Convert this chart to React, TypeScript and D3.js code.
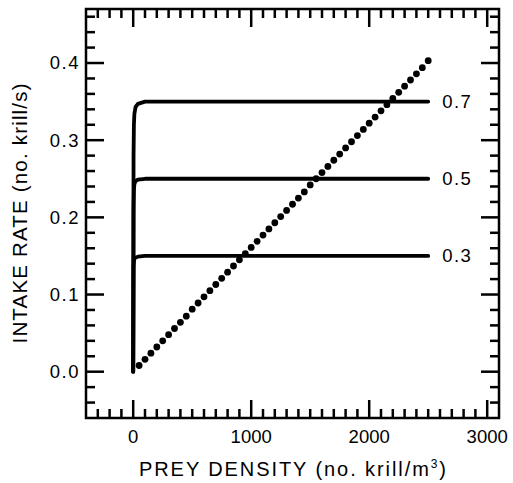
import React, { useEffect, useRef } from 'react';
import * as d3 from 'd3';

// Saturating intake curves (labelled by their parameter value)
const curveDensity = [0, 3, 6, 10, 20, 40, 100, 2500];
const intake07 = [0, 0.28, 0.32, 0.334, 0.343, 0.347, 0.35, 0.35];
const intake05 = [0, 0.21, 0.235, 0.243, 0.247, 0.249, 0.25, 0.25];
const intake03 = [0, 0.135, 0.143, 0.146, 0.148, 0.149, 0.15, 0.15];
const curveLabels = ['0.7', '0.5', '0.3'];

// Dotted linear intake
const dotDensity = [
  50, 100, 150, 200, 250, 300, 350, 400, 450, 500,
  550, 600, 650, 700, 750, 800, 850, 900, 950, 1000,
  1050, 1100, 1150, 1200, 1250, 1300, 1350, 1400, 1450, 1500,
  1550, 1600, 1650, 1700, 1750, 1800, 1850, 1900, 1950, 2000,
  2050, 2100, 2150, 2200, 2250, 2300, 2350, 2400, 2450, 2500,
];
const dotIntake = [
  0.008, 0.016, 0.024, 0.032, 0.040, 0.048, 0.056, 0.064, 0.072, 0.081,
  0.089, 0.097, 0.105, 0.113, 0.121, 0.129, 0.137, 0.145, 0.153, 0.161,
  0.169, 0.177, 0.185, 0.193, 0.201, 0.209, 0.217, 0.225, 0.233, 0.242,
  0.250, 0.258, 0.266, 0.274, 0.282, 0.290, 0.298, 0.306, 0.314, 0.322,
  0.330, 0.338, 0.346, 0.354, 0.362, 0.370, 0.378, 0.386, 0.394, 0.403,
];

const xMajorTicks = [0, 1000, 2000, 3000];
const xMinorTicks = [-300, -200, -100, 100, 200, 300, 400, 500, 600, 700, 800, 900,
  1100, 1200, 1300, 1400, 1500, 1600, 1700, 1800, 1900, 2100, 2200, 2300, 2400,
  2500, 2600, 2700, 2800, 2900];
const yMajorTicks = [0, 0.1, 0.2, 0.3, 0.4];
const yMinorTicks = [-0.04, -0.02, 0.02, 0.04, 0.06, 0.08, 0.12, 0.14, 0.16, 0.18,
  0.22, 0.24, 0.26, 0.28, 0.32, 0.34, 0.36, 0.38, 0.42, 0.44, 0.46];

const FONT = '"Liberation Sans", Arial, Helvetica, sans-serif';

const App: React.FC = () => {
  const svgRef = useRef<SVGSVGElement>(null);

  useEffect(() => {
    if (!svgRef.current) return;
    const svg = d3.select(svgRef.current);
    svg.selectAll('*').remove();

    const left = 86, right = 499, top = 9, bottom = 418;
    const x = d3.scaleLinear().domain([-400, 3100]).range([left, right]);
    const y = d3.scaleLinear().domain([-0.06, 0.47]).range([bottom, top]);

    const majorLen = 18;
    const minorLen = 9;

    // frame
    svg.append('rect')
      .attr('x', left).attr('y', top)
      .attr('width', right - left).attr('height', bottom - top)
      .attr('fill', 'none').attr('stroke', '#000').attr('stroke-width', 2.5);

    // inward ticks on all four sides
    const tickGroup = svg.append('g').attr('stroke', '#000').attr('stroke-width', 2.5);
    const drawX = (vals: number[], len: number) => {
      tickGroup.append('g').selectAll('line').data(vals).join('line')
        .attr('x1', d => x(d)).attr('x2', d => x(d))
        .attr('y1', bottom).attr('y2', bottom - len);
      tickGroup.append('g').selectAll('line').data(vals).join('line')
        .attr('x1', d => x(d)).attr('x2', d => x(d))
        .attr('y1', top).attr('y2', top + len);
    };
    const drawY = (vals: number[], len: number) => {
      tickGroup.append('g').selectAll('line').data(vals).join('line')
        .attr('y1', d => y(d)).attr('y2', d => y(d))
        .attr('x1', left).attr('x2', left + len);
      tickGroup.append('g').selectAll('line').data(vals).join('line')
        .attr('y1', d => y(d)).attr('y2', d => y(d))
        .attr('x1', right).attr('x2', right - len);
    };
    drawX(xMinorTicks, minorLen);
    drawY(yMinorTicks, minorLen);
    drawX(xMajorTicks, majorLen);
    drawY(yMajorTicks, majorLen);

    // tick labels
    svg.append('g').selectAll('text').data(xMajorTicks).join('text')
      .attr('x', d => x(d))
      .attr('y', 443)
      .attr('text-anchor', 'middle')
      .attr('fill', '#000')
      .style('font-family', FONT)
      .style('font-size', '18.5px')
      .text(d => d3.format('d')(d));
    svg.append('g').selectAll('text').data(yMajorTicks).join('text')
      .attr('x', 80)
      .attr('y', d => y(d))
      .attr('dy', '0.35em')
      .attr('text-anchor', 'end')
      .attr('fill', '#000')
      .style('font-family', FONT)
      .style('font-size', '18.5px')
      .style('letter-spacing', '1.5px')
      .text(d => d3.format('.1f')(d));

    // curves
    const line = d3.line<number>()
      .x((_, i) => x(curveDensity[i]))
      .y(d => y(d));
    const series = [intake07, intake05, intake03];
    series.forEach((s, k) => {
      svg.append('path')
        .attr('d', line(s))
        .attr('fill', 'none')
        .attr('stroke', '#000')
        .attr('stroke-width', 3.8)
        .attr('stroke-linejoin', 'round')
        .attr('stroke-linecap', 'round');
      svg.append('text')
        .attr('x', x(curveDensity[curveDensity.length - 1]) + 14)
        .attr('y', y(s[s.length - 1]))
        .attr('dy', '0.35em')
        .text(curveLabels[k])
        .attr('fill', '#000')
        .style('font-family', FONT)
        .style('font-size', '18.5px')
        .style('letter-spacing', '1.5px');
    });

    // dots
    svg.append('g').selectAll('circle')
      .data(dotDensity)
      .join('circle')
      .attr('cx', d => x(d))
      .attr('cy', (_, i) => y(dotIntake[i]))
      .attr('r', 3.4)
      .attr('fill', '#000');

    // axis titles
    const xt = svg.append('text')
      .attr('x', (left + right) / 2)
      .attr('y', 476)
      .attr('text-anchor', 'middle')
      .attr('textLength', 307)
      .attr('lengthAdjust', 'spacing')
      .attr('fill', '#000')
      .style('font-family', FONT)
      .style('font-size', '20px');
    xt.append('tspan').text('PREY DENSITY (no. krill/m');
    xt.append('tspan').attr('dy', -8).style('font-size', '12px').text('3');
    xt.append('tspan').attr('dy', 8).text(')');

    svg.append('text')
      .attr('transform', `translate(27,${(top + bottom) / 2}) rotate(-90)`)
      .attr('text-anchor', 'middle')
      .attr('textLength', 260)
      .attr('lengthAdjust', 'spacing')
      .attr('fill', '#000')
      .style('font-family', FONT)
      .style('font-size', '20.5px')
      .text('INTAKE RATE (no. krill/s)');
  }, []);

  return (
    <svg
      ref={svgRef}
      width={513}
      height={483}
      style={{ position: 'absolute', left: 0, top: 0, background: '#fff' }}
    />
  );
};

export default App;
